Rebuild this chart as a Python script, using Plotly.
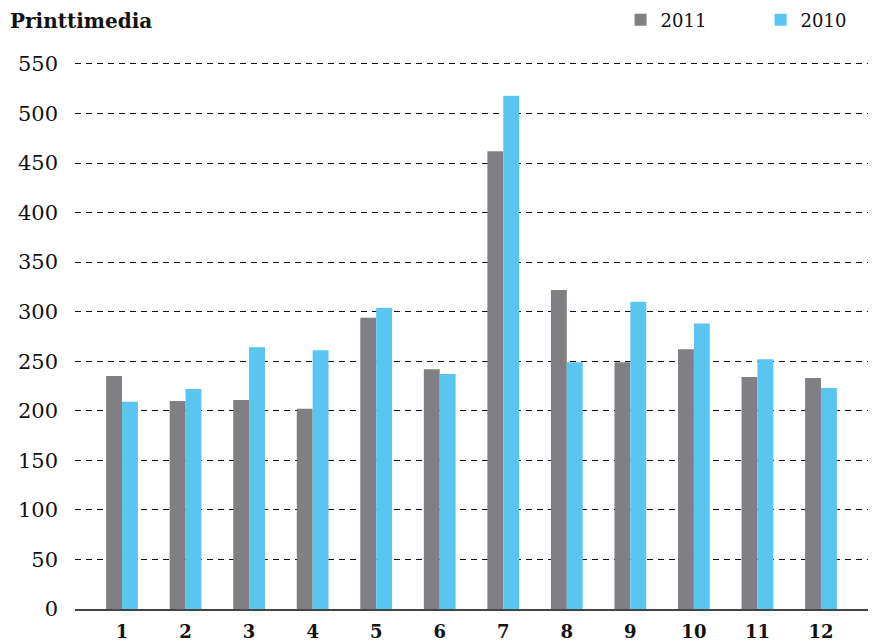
import plotly.graph_objects as go

months = [str(i) for i in range(1, 13)]
values_2011 = [235, 210, 211, 202, 294, 242, 462, 322, 249, 262, 234, 233]
values_2010 = [209, 222, 264, 261, 304, 237, 518, 249, 310, 288, 252, 223]
y_ticks = [0, 50, 100, 150, 200, 250, 300, 350, 400, 450, 500, 550]

FONT = "DejaVu Serif"

fig = go.Figure()
fig.add_trace(go.Bar(x=months, y=values_2011, name="2011", marker_color="#807f83",
                     marker_line_width=0))
fig.add_trace(go.Bar(x=months, y=values_2010, name="2010", marker_color="#5bc5f2",
                     marker_line_width=0))

fig.update_layout(
    width=878, height=641,
    plot_bgcolor="white", paper_bgcolor="white",
    barmode="group", bargap=0.5, bargroupgap=0,
    margin=dict(l=75, r=10, t=54, b=32, autoexpand=False),
    font=dict(family=FONT, color="#111111"),
    title=dict(text="<b>Printtimedia</b>", x=10 / 878, xanchor="left", xref="container",
               y=1 - 21 / 641, yanchor="middle", yref="container", pad=dict(t=0, b=0, l=0, r=0),
               font=dict(size=20, family=FONT, color="#111111")),
    legend=dict(orientation="h", x=0.688, xanchor="left", y=1 + 34 / 555, yref="paper",
                yanchor="middle", font=dict(size=18, family=FONT), traceorder="normal",
                itemwidth=30, entrywidth=95, bgcolor="rgba(0,0,0,0)"),
    showlegend=True,
)
fig.update_xaxes(type="category", range=[-0.74, 11.74], showgrid=False,
                 showline=True, linecolor="#444444", linewidth=2,
                 tickfont=dict(size=18, family=FONT), ticks="", automargin=False,
                 ticklabelstandoff=5,
                 tickprefix="<b>", ticksuffix="</b>")
fig.update_yaxes(range=[0, 560], tickvals=y_ticks, showgrid=True, gridcolor="#111111",
                 griddash="6px,5px", gridwidth=1, zeroline=False, automargin=False,
                 tickfont=dict(size=21, family=FONT), ticks="", ticklabelstandoff=16)

fig.write_html("out.html", config={"displayModeBar": False},
               post_script="document.body.style.margin='0';document.body.style.padding='0';")
